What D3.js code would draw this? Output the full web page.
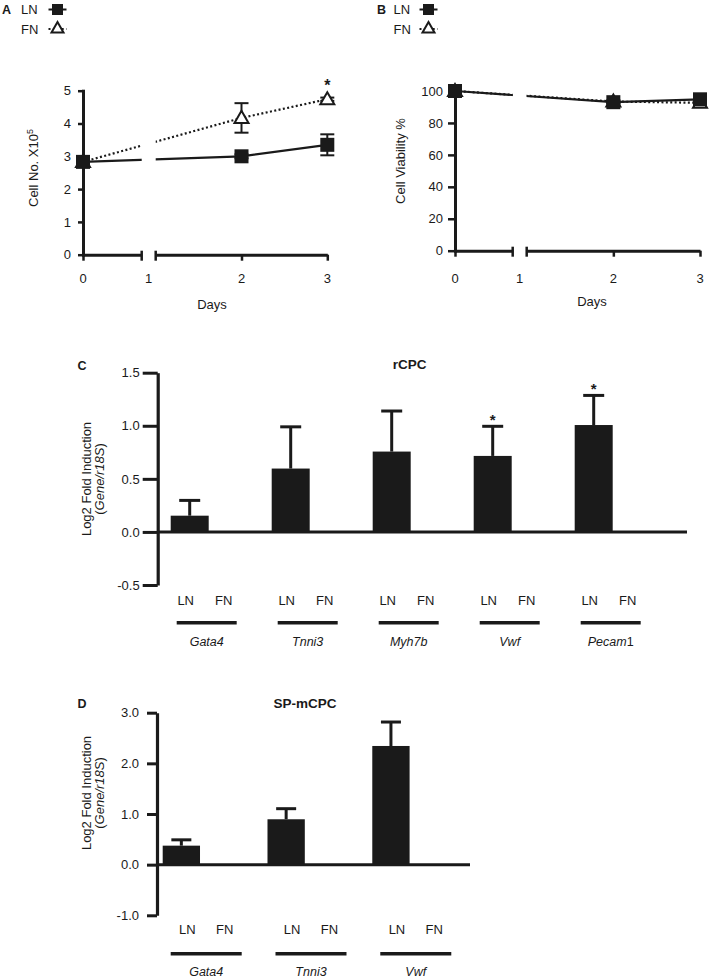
<!DOCTYPE html>
<html><head><meta charset="utf-8">
<script src="https://cdn.jsdelivr.net/npm/d3@7"></script>
<style>
body{margin:0;background:#fff}
text{font-family:"Liberation Sans",Arial,Helvetica,sans-serif;fill:#1a1a1a}
</style></head><body><svg id="c" width="709" height="979"></svg>
<script>
// ---------- data ----------
const days = [0, 2, 3];
const dayTicks = [0, 1, 2, 3];
const cellLN = [2.83, 3.00, 3.35];
const cellLNerr = [0.06, 0.06, 0.32];
const cellFN = [2.83, 4.17, 4.74];
const cellFNerr = [0.06, 0.45, 0.05];
const cellFNsig = [false, false, true];
const cellTicks = [0, 1, 2, 3, 4, 5];
const viabLN = [100, 93.0, 94.8];
const viabLNerr = [0.5, 0.8, 0.8];
const viabFN = [100, 93.4, 92.6];
const viabFNerr = [0.5, 0.8, 0.8];
const viabFNsig = [false, false, false];
const viabTicks = [0, 20, 40, 60, 80, 100];
const seriesNames = ["LN", "FN"];

const conditions = ["LN", "FN"];
const genesC = ["Gata4", "Tnni3", "Myh7b", "Vwf", "Pecam1"];
const rcpcLN = [0.153, 0.597, 0.757, 0.716, 1.007];
const rcpcLNerr = [0.144, 0.393, 0.382, 0.279, 0.279];
const rcpcFN = [0, 0, 0, 0, 0];
const rcpcSig = [false, false, false, true, true];
const rcpcTicks = [-0.5, 0, 0.5, 1.0, 1.5];

const genesD = ["Gata4", "Tnni3", "Vwf"];
const spLN = [0.375, 0.896, 2.343];
const spLNerr = [0.115, 0.209, 0.473];
const spFN = [0, 0, 0];
const spSig = [false, false, false];
const spTicks = [-1, 0, 1, 2, 3];

// ---------- drawing ----------
const svg = d3.select("#c");
const ink = "#1a1a1a";
const FONT = '"Liberation Sans",Arial,Helvetica,sans-serif';

function styleAxis(sel, w, tw, fs) {
  sel.select(".domain").attr("stroke", ink).attr("stroke-width", w).attr("stroke-linecap", "square");
  sel.selectAll(".tick line").attr("stroke", ink).attr("stroke-width", tw);
  sel.selectAll(".tick text").attr("font-size", fs).attr("font-family", FONT).attr("fill", ink);
}

function lineChart(cfg) {
  const g = svg.append("g");
  const y = d3.scaleLinear().domain(cfg.yDomain).range(cfg.yRange);
  const s1 = d3.scaleLinear().domain([0, 1]).range([cfg.x0, cfg.brk1]);
  const s2 = d3.scaleLinear().domain([1, 3]).range([cfg.brk2, cfg.xEnd]);
  const xp = d => d < 1 ? s1(d) : s2(d);
  const y0 = y(0);

  const cid = "clip" + cfg.key;
  const cp = svg.append("clipPath").attr("id", cid);
  cp.append("rect").attr("x", cfg.x0 - 40).attr("y", 0).attr("width", cfg.brk1 - cfg.x0 + 40).attr("height", 400);
  cp.append("rect").attr("x", cfg.brk2).attr("y", 0).attr("width", cfg.xEnd - cfg.brk2 + 40).attr("height", 400);

  // y axis
  const ya = g.append("g").attr("transform", `translate(${cfg.x0},0)`)
    .call(d3.axisLeft(y).tickValues(cfg.yTicks).tickSize(cfg.tickLen).tickSizeOuter(0).tickPadding(cfg.tickPad).tickFormat(d3.format("d")));
  styleAxis(ya, 3, 2.5, 13);
  // x axis (broken)
  const xa1 = g.append("g").attr("transform", `translate(0,${y0})`)
    .call(d3.axisBottom(s1).tickValues([0]).tickSize(6).tickSizeOuter(0).tickFormat(""));
  const xa2 = g.append("g").attr("transform", `translate(0,${y0})`)
    .call(d3.axisBottom(s2).tickValues([2, 3]).tickSize(6).tickSizeOuter(0).tickFormat(""));
  styleAxis(xa1, 3, 2.5, 13); styleAxis(xa2, 3, 2.5, 13);
  xa1.select(".domain").attr("stroke-linecap", "butt");
  xa2.select(".domain").attr("stroke-linecap", "butt");
  g.selectAll(".brk").data([cfg.brk1, cfg.brk2]).join("line")
    .attr("x1", d => d).attr("x2", d => d).attr("y1", y0 - 4).attr("y2", y0 + 6)
    .attr("stroke", ink).attr("stroke-width", 2.5);
  const mid = (cfg.brk1 + cfg.brk2) / 2;
  g.selectAll(".dl").data(dayTicks).join("text")
    .attr("x", d => d === 1 ? mid : xp(d)).attr("y", cfg.dayLabelY)
    .attr("text-anchor", "middle").attr("font-size", 13).text(d => d);
  g.append("text").attr("x", cfg.daysX).attr("y", cfg.daysY).attr("text-anchor", "middle")
    .attr("font-size", 13).text("Days");

  // y title
  const yt = g.append("text").attr("transform", `translate(${cfg.ylabX},${cfg.ylabY}) rotate(-90)`)
    .attr("text-anchor", "middle").attr("font-size", 13);
  yt.append("tspan").text(cfg.ylab);
  if (cfg.ylabSup) yt.append("tspan").attr("font-size", 9).attr("dy", -5).text(cfg.ylabSup);

  // lines
  const line = d3.line().x((d, i) => xp(days[i])).y(d => y(d));
  g.append("path").datum(cfg.fn).attr("d", line).attr("clip-path", `url(#${cid})`)
    .attr("fill", "none").attr("stroke", ink).attr("stroke-width", 2.2).attr("stroke-dasharray", "2,2.4");
  g.append("path").datum(cfg.ln).attr("d", line).attr("clip-path", `url(#${cid})`)
    .attr("fill", "none").attr("stroke", ink).attr("stroke-width", 2.2);

  function errBars(vals, errs) {
    const eg = g.append("g").attr("stroke", ink).attr("stroke-width", 2);
    vals.forEach((v, i) => {
      const x = xp(days[i]);
      eg.append("line").attr("x1", x).attr("x2", x).attr("y1", y(v - errs[i])).attr("y2", y(v + errs[i]));
      [v - errs[i], v + errs[i]].forEach(e => eg.append("line").attr("x1", x - 7).attr("x2", x + 7).attr("y1", y(e)).attr("y2", y(e)));
    });
  }
  errBars(cfg.fn, cfg.fnErr);
  errBars(cfg.ln, cfg.lnErr);

  const tri = d3.symbol(d3.symbolTriangle, 14 * 14 * Math.sqrt(3) / 4);
  g.selectAll(".tri").data(cfg.fn).join("path")
    .attr("d", tri).attr("transform", (d, i) => `translate(${xp(days[i])},${y(d) + 1})`)
    .attr("fill", "#fff").attr("stroke", ink).attr("stroke-width", 2);
  g.selectAll(".sq").data(cfg.ln).join("rect")
    .attr("x", (d, i) => xp(days[i]) - 7).attr("y", d => y(d) - 7)
    .attr("width", 14).attr("height", 14).attr("fill", ink);
  g.selectAll(".star").data(cfg.fnSig.map((s, i) => ({ s, i })).filter(d => d.s)).join("text")
    .attr("x", d => xp(days[d.i])).attr("y", d => y(cfg.fn[d.i]) - 17 + 9)
    .attr("text-anchor", "middle").attr("font-size", 16).attr("font-weight", "bold").text("*");

  // legend
  const lg = g.append("g");
  lg.append("text").attr("x", cfg.letterX).attr("y", 14).attr("font-size", 12.5).attr("font-weight", "bold").text(cfg.letter);
  seriesNames.forEach((s, i) => {
    const yy = 9.5 + i * 19.5;
    lg.append("text").attr("x", cfg.legX).attr("y", yy + 4.5).attr("font-size", 13).text(s);
    lg.append("line").attr("x1", cfg.legSymX - 9).attr("x2", cfg.legSymX + 9).attr("y1", yy).attr("y2", yy)
      .attr("stroke", ink).attr("stroke-width", 2).attr("stroke-dasharray", i ? "2,2.4" : null);
    if (i === 0) {
      lg.append("rect").attr("x", cfg.legSymX - 5.5).attr("y", yy - 5.5).attr("width", 11).attr("height", 11).attr("fill", ink);
    } else {
      lg.append("path").attr("d", d3.symbol(d3.symbolTriangle, 12 * 12 * Math.sqrt(3) / 4))
        .attr("transform", `translate(${cfg.legSymX},${yy})`).attr("fill", "#fff").attr("stroke", ink).attr("stroke-width", 2);
    }
  });
}

lineChart({
  key: "A", letter: "A", letterX: 2, legX: 21, legSymX: 57.5,
  yDomain: [0, 5], yRange: [254.7, 90.7], yTicks: cellTicks, tickLen: 5, tickPad: 7,
  x0: 83, brk1: 141.7, brk2: 155.7, xEnd: 327.3,
  dayLabelY: 282.5, daysX: 212, daysY: 309,
  ylab: "Cell No. X10", ylabSup: "5", ylabX: 38, ylabY: 168,
  ln: cellLN, lnErr: cellLNerr, fn: cellFN, fnErr: cellFNerr, fnSig: cellFNsig
});
lineChart({
  key: "B", letter: "B", letterX: 377, legX: 393.5, legSymX: 428.5,
  yDomain: [0, 100], yRange: [250.7, 91], yTicks: viabTicks, tickLen: 7, tickPad: 5,
  x0: 455, brk1: 512.7, brk2: 526.7, xEnd: 700,
  dayLabelY: 282.5, daysX: 592, daysY: 305.5,
  ylab: "Cell Viability %", ylabSup: null, ylabX: 404.5, ylabY: 161,
  ln: viabLN, lnErr: viabLNerr, fn: viabFN, fnErr: viabFNerr, fnSig: viabFNsig
});

function barChart(cfg) {
  const g = svg.append("g");
  const y = d3.scaleLinear().domain(cfg.yDomain).range(cfg.yRange);
  const xg = d3.scaleBand().domain(cfg.genes).range(cfg.groupRange).paddingInner(cfg.padInner).paddingOuter(0);
  const xc = d3.scaleBand().domain(conditions).range([0, xg.bandwidth()]);
  const rows = [];
  cfg.genes.forEach((gn, i) => {
    rows.push({ gene: gn, cond: "LN", v: cfg.ln[i], e: cfg.lnErr[i], sig: cfg.sig[i] });
    rows.push({ gene: gn, cond: "FN", v: cfg.fn[i], e: 0, sig: false });
  });
  const bx = d => xg(d.gene) + xc(d.cond);
  const bw = xc.bandwidth();

  // error bars (upper)
  const eg = g.append("g").attr("stroke", ink).attr("stroke-width", 3);
  rows.filter(d => d.e > 0).forEach(d => {
    const cx = bx(d) + bw / 2;
    eg.append("line").attr("x1", cx).attr("x2", cx).attr("y1", y(d.v)).attr("y2", y(d.v + d.e));
    eg.append("line").attr("x1", cx - cfg.cap / 2).attr("x2", cx + cfg.cap / 2).attr("y1", y(d.v + d.e)).attr("y2", y(d.v + d.e));
  });
  g.selectAll(".bar").data(rows).join("rect")
    .attr("x", bx).attr("width", bw)
    .attr("y", d => y(Math.max(0, d.v))).attr("height", d => Math.abs(y(d.v) - y(0)))
    .attr("fill", ink);
  g.selectAll(".star").data(rows.filter(d => d.sig)).join("text")
    .attr("x", d => bx(d) + bw / 2).attr("y", d => y(d.v + d.e) - 10 + 8.7)
    .attr("text-anchor", "middle").attr("font-size", 15).attr("font-weight", "bold").text("*");

  // zero line
  g.append("line").attr("x1", cfg.axisX).attr("x2", cfg.baseEnd).attr("y1", y(0)).attr("y2", y(0))
    .attr("stroke", ink).attr("stroke-width", 3);
  // y axis
  const ya = g.append("g").attr("transform", `translate(${cfg.axisX},0)`)
    .call(d3.axisLeft(y).tickValues(cfg.ticks).tickSize(cfg.tickLen).tickSizeOuter(0).tickPadding(cfg.tickPad).tickFormat(d => d.toFixed(1)));
  styleAxis(ya, 3.2, 3, 13);
  ya.select(".domain").attr("stroke-linecap", "butt");

  // category labels
  g.selectAll(".cl").data(rows).join("text")
    .attr("x", d => bx(d) + bw / 2 + cfg.labOff).attr("y", cfg.labY)
    .attr("text-anchor", "middle").attr("font-size", 13).text(d => d.cond);
  g.selectAll(".ul").data(cfg.genes).join("line")
    .attr("x1", d => xg(d) + cfg.ulStart).attr("x2", d => xg(d) + cfg.ulStart + cfg.ulLen)
    .attr("y1", cfg.ulY).attr("y2", cfg.ulY).attr("stroke", ink).attr("stroke-width", 3.5);
  g.selectAll(".gl").data(cfg.genes).join("text")
    .attr("x", d => xg(d) + cfg.ulStart + cfg.ulLen / 2).attr("y", cfg.geneY)
    .attr("text-anchor", "middle").attr("font-size", 12.5)
    .each(function (d) {
      const t = d3.select(this);
      const m = d.match(/^(.*?)(1)$/);
      if (d === "Pecam1") { t.append("tspan").attr("font-style", "italic").text("Pecam"); t.append("tspan").text("1"); }
      else t.append("tspan").attr("font-style", "italic").text(d);
    });

  // titles
  g.append("text").attr("x", cfg.letterX).attr("y", cfg.letterY).attr("font-size", 12.5).attr("font-weight", "bold").text(cfg.letter);
  g.append("text").attr("x", cfg.titleX).attr("y", cfg.titleY).attr("text-anchor", "middle")
    .attr("font-size", 13.5).attr("font-weight", "bold").text(cfg.title);
  g.append("text").attr("transform", `translate(${cfg.ylabX},${cfg.ylabY}) rotate(-90)`)
    .attr("text-anchor", "middle").attr("font-size", 13).text("Log2 Fold Induction");
  const t2 = g.append("text").attr("transform", `translate(${cfg.ylabX + 13},${cfg.ylabY}) rotate(-90)`)
    .attr("text-anchor", "middle").attr("font-size", 13);
  t2.append("tspan").text("(");
  t2.append("tspan").attr("font-style", "italic").text("Gene/r18S");
  t2.append("tspan").text(")");
}

barChart({
  genes: genesC, ln: rcpcLN, lnErr: rcpcLNerr, fn: rcpcFN, sig: rcpcSig,
  yDomain: [-0.5, 1.5], yRange: [585, 372.7], ticks: rcpcTicks, tickLen: 15, tickPad: 3,
  axisX: 157.7, groupRange: [170.7, 650.7], padInner: 0.2475, baseEnd: 687, cap: 21,
  labOff: -4, labY: 605, ulStart: 6, ulLen: 60, ulY: 622.7, geneY: 645.5,
  letter: "C", letterX: 77.5, letterY: 369.5, title: "rCPC", titleX: 409.7, titleY: 369,
  ylabX: 91, ylabY: 479
});
barChart({
  genes: genesD, ln: spLN, lnErr: spLNerr, fn: spFN, sig: spSig,
  yDomain: [-1, 3], yRange: [915.3, 712.7], ticks: spTicks, tickLen: 10, tickPad: 8,
  axisX: 157, groupRange: [162.7, 446.9], padInner: 0.288, baseEnd: 470, cap: 20,
  labOff: 6, labY: 934, ulStart: 8, ulLen: 71, ulY: 953.7, geneY: 976,
  letter: "D", letterX: 77.5, letterY: 707.5, title: "SP-mCPC", titleX: 305, titleY: 707.5,
  ylabX: 91, ylabY: 793
});
</script></body></html>
